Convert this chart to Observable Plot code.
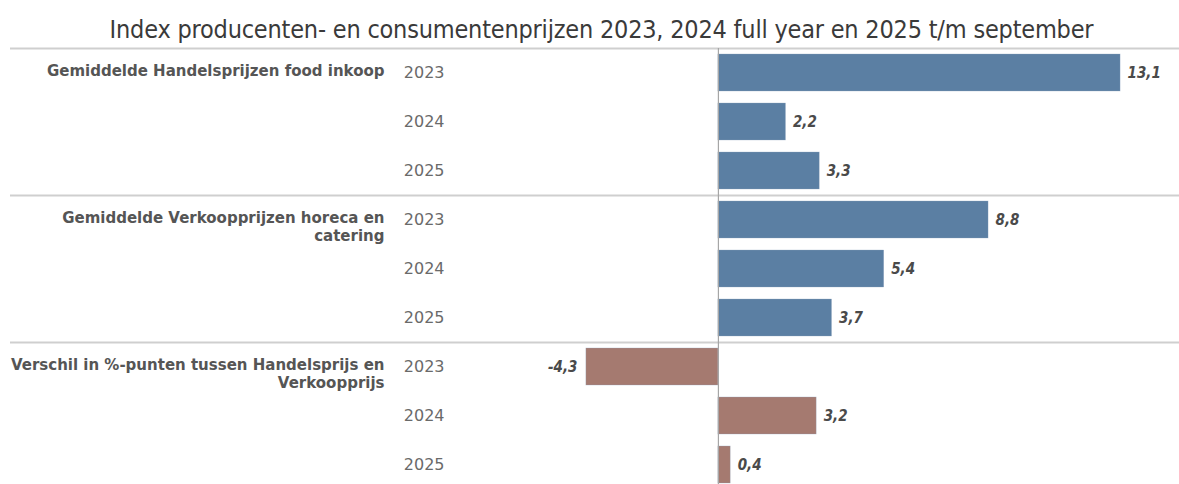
<!DOCTYPE html>
<html><head><meta charset="utf-8">
<script src="https://cdn.jsdelivr.net/npm/d3@7"></script>
<script src="https://cdn.jsdelivr.net/npm/@observablehq/plot@0.6"></script>
<style>
html,body{margin:0;padding:0;background:#fff;}
body{width:1179px;height:484px;overflow:hidden;font-family:"DejaVu Sans",sans-serif;}
#title{height:47px;box-sizing:border-box;padding-top:16px;padding-left:24px;text-align:center;font-family:"DejaVu Sans Condensed","DejaVu Sans",sans-serif;font-size:25px;line-height:28px;color:#3a3a3a;white-space:nowrap;letter-spacing:-0.2px;}
#chart svg{display:block;}
</style></head><body>
<div id="title">Index producenten- en consumentenprijzen 2023, 2024 full year en 2025 t/m september</div>
<div id="chart"></div>
<script>
// Categories
const groups = ["Gemiddelde Handelsprijzen food inkoop", "Gemiddelde Verkoopprijzen horeca en catering", "Verschil in %-punten tussen Handelsprijs en Verkoopprijs"];
const groupLabels = ["Gemiddelde Handelsprijzen food inkoop", "Gemiddelde Verkoopprijzen horeca en\ncatering", "Verschil in %-punten tussen Handelsprijs en\nVerkoopprijs"];
const years = ["2023", "2024", "2025"];
// Series values
const handelsprijzen = [13.1, 2.2, 3.3];
const verkoopprijzen = [8.8, 5.4, 3.7];
const verschil = [-4.3, 3.2, 0.4];
const seriesValues = [handelsprijzen, verkoopprijzen, verschil];
const seriesColors = ["#5b7fa3", "#5b7fa3", "#a57a70"];

const rows = groups.flatMap((g, gi) => years.map((yr, yi) => ({
  group: g, label: groupLabels[gi], year: yr, key: g + "|" + yr,
  value: seriesValues[gi][yi], color: seriesColors[gi], first: yi === 0
})));
const fmt = v => d3.format(".1f")(v).replace(".", ",").replace("\u2212", "-");

const chart = Plot.plot({
  width: 1179, height: 442,
  marginTop: 1, marginBottom: 0, marginLeft: 10, marginRight: 0,
  x: {domain: [-23.06, 15.02], axis: null},
  y: {type: "band", domain: rows.map(d => d.key), paddingInner: 0.245, paddingOuter: 0.1225, axis: null},
  style: {fontFamily: "DejaVu Sans, sans-serif", background: "white", overflow: "visible"},
  marks: [
    Plot.ruleY(rows.filter(d => d.first), {y: "key", dy: -24.5, stroke: "#cfcfcf", strokeWidth: 2}),
    Plot.barX(rows, {x: "value", y: "key", fill: "color", stroke: "#8fa6bf", strokeWidth: 0.6, strokeOpacity: 0.5}),
    Plot.ruleX([0], {stroke: "#a6a6a6", strokeWidth: 1.2}),
    Plot.text(rows.filter(d => d.value >= 0), {x: "value", y: "key", text: d => fmt(d.value), textAnchor: "start", dx: 7, fill: "#4a4a4a", fontSize: 15, fontStyle: "italic", fontWeight: "bold", fontFamily: "DejaVu Sans Condensed, DejaVu Sans, sans-serif"}),
    Plot.text(rows.filter(d => d.value < 0), {x: "value", y: "key", text: d => fmt(d.value), textAnchor: "end", dx: -9, fill: "#4a4a4a", fontSize: 15, fontStyle: "italic", fontWeight: "bold", fontFamily: "DejaVu Sans Condensed, DejaVu Sans, sans-serif"}),
    Plot.text(rows, {y: "key", text: "year", frameAnchor: "left", dx: 434, textAnchor: "end", fill: "#6a6a6a", fontSize: 16}),
    Plot.text(rows.filter(d => d.first), {y: "key", text: "label", frameAnchor: "left", dx: 374, textAnchor: "end", lineAnchor: "top", dy: -10, lineHeight: 1.2, fill: "#555", fontSize: 15, fontWeight: "bold"})
  ]
});
document.getElementById("chart").appendChild(chart);
</script>
</body></html>
